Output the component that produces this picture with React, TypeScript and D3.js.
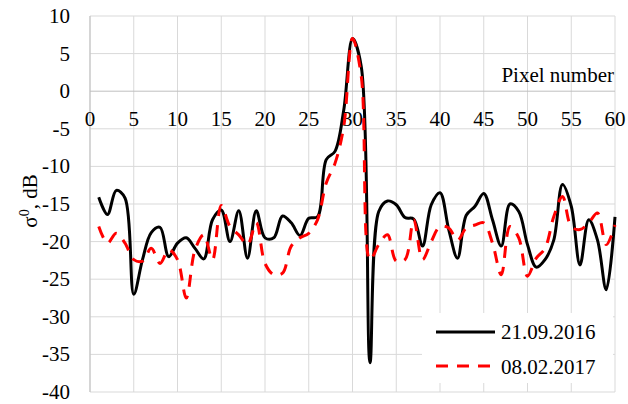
import React from "react";
import * as d3 from "d3";

const pixels: number[] = d3.range(1, 61);
const series2016: number[] = [-14.1, -16.4, -13.2, -14.2, -27.0, -22.4, -18.8, -18.1, -22.0, -20.2, -19.5, -20.9, -22.3, -17.1, -15.8, -20.0, -15.9, -22.2, -15.9, -19.5, -19.5, -16.6, -17.5, -19.2, -16.9, -16.7, -9.1, -8.0, -2.5, 7.0, 3.3, -36.1, -16.0, -14.6, -15.1, -16.8, -17.0, -20.6, -15.1, -13.5, -18.4, -22.2, -16.5, -15.3, -13.6, -17.1, -20.6, -15.0, -16.0, -20.4, -23.4, -22.4, -19.8, -12.4, -15.3, -23.1, -17.1, -19.8, -26.4, -16.7];
const series2017: number[] = [-18.0, -20.2, -18.9, -20.2, -22.4, -22.6, -20.9, -22.9, -21.1, -22.4, -27.5, -21.1, -19.1, -22.4, -15.2, -18.0, -19.1, -20.4, -17.5, -22.9, -24.4, -24.2, -20.6, -19.5, -18.9, -17.1, -12.2, -9.6, -4.7, 7.0, 2.0, -22.4, -20.4, -19.1, -22.6, -22.4, -17.1, -22.4, -20.0, -18.0, -18.2, -19.8, -18.2, -17.8, -17.5, -20.2, -24.4, -18.0, -19.5, -24.6, -22.2, -20.9, -16.7, -14.0, -18.0, -18.4, -17.5, -16.2, -20.4, -17.8];
const xTicks: number[] = d3.range(0, 61, 5);
const yTicks: number[] = d3.range(-40, 11, 5);
const legendLabels: string[] = ["21.09.2016", "08.02.2017"];

const FONT = "'Liberation Serif', 'Times New Roman', serif";

export default function App() {
  const x = d3.scaleLinear().domain([0, 60]).range([90, 615]);
  const y = d3.scaleLinear().domain([-40, 10]).range([392, 16]);
  const line = d3
    .line<number>()
    .x((_, i) => x(pixels[i]))
    .y((d) => y(d))
    .curve(d3.curveCatmullRom.alpha(0.5));

  return (
    <svg
      width={628}
      height={404}
      style={{ position: "absolute", left: 0, top: 0, background: "#fff" }}
      fontFamily={FONT}
    >
      <rect x={0} y={0} width={628} height={404} fill="#fff" />
      {xTicks.map((t) => (
        <line key={"gx" + t} x1={x(t)} x2={x(t)} y1={y(10)} y2={y(-40)} stroke="#d9d9d9" strokeWidth={1} />
      ))}
      {yTicks.map((t) => (
        <line key={"gy" + t} x1={x(0)} x2={x(60)} y1={y(t)} y2={y(t)} stroke={t === 0 ? "#bfbfbf" : "#d9d9d9"} strokeWidth={1} />
      ))}
      <line x1={x(0)} x2={x(0)} y1={y(10)} y2={y(-40)} stroke="#bfbfbf" strokeWidth={1} />
      {yTicks.map((t) => (
        <text key={"ty" + t} x={70} y={y(t) + 7} textAnchor="end" fontSize={21} fill="#000">
          {t}
        </text>
      ))}
      {xTicks.map((t) => (
        <text key={"tx" + t} x={x(t)} y={126} textAnchor="middle" fontSize={21} fill="#000">
          {t}
        </text>
      ))}
      <text x={614} y={82} textAnchor="end" fontSize={21} fill="#000">
        Pixel number
      </text>
      <text transform="translate(37,201) rotate(-90)" textAnchor="middle" fontSize={21} fill="#000">
        σ<tspan dy={-8} fontSize={14}>0</tspan>
        <tspan dy={8}>, dB</tspan>
      </text>
      <path d={line(series2016) || ""} fill="none" stroke="#000" strokeWidth={3} strokeLinejoin="round" />
      <path d={line(series2017) || ""} fill="none" stroke="#ff0000" strokeWidth={3} strokeDasharray="12,9" strokeLinejoin="round" />
      <rect x={422} y={313} width={191} height={70} fill="#fff" />
      <line x1={436} x2={495} y1={332} y2={332} stroke="#000" strokeWidth={3} />
      <line x1={436} x2={495} y1={366} y2={366} stroke="#ff0000" strokeWidth={3} strokeDasharray="12,9" />
      <text x={501} y={339} fontSize={21} fill="#000">{legendLabels[0]}</text>
      <text x={501} y={374} fontSize={21} fill="#000">{legendLabels[1]}</text>
    </svg>
  );
}
